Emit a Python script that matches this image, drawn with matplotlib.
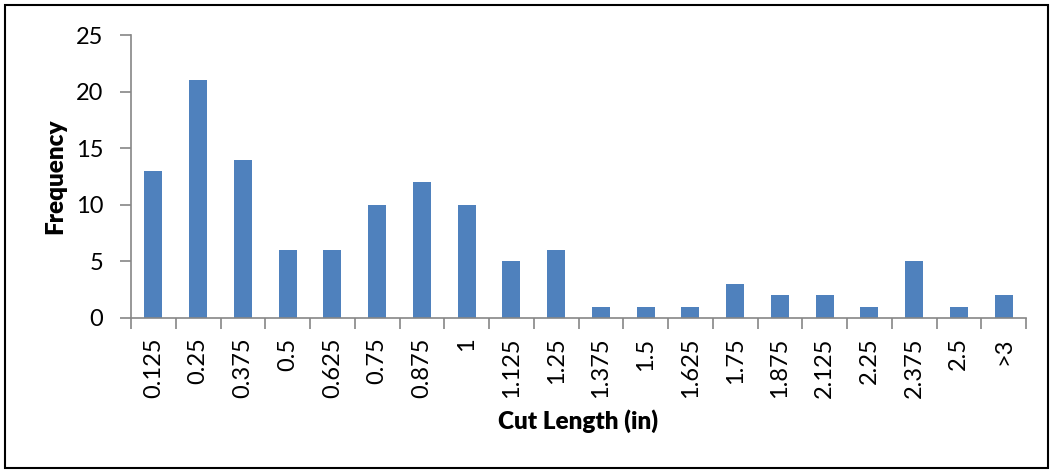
import matplotlib
matplotlib.use("Agg")
import matplotlib.pyplot as plt
from matplotlib.patches import Rectangle
import numpy as np

# histogram bins (upper bound of each cut-length bin) and counts
bins = ["0.125", "0.25", "0.375", "0.5", "0.625", "0.75", "0.875", "1",
        "1.125", "1.25", "1.375", "1.5", "1.625", "1.75", "1.875", "2.125",
        "2.25", "2.375", "2.5", ">3"]
counts = [13, 21, 14, 6, 6, 10, 12, 10, 5, 6, 1, 1, 1, 3, 2, 2, 1, 5, 1, 2]

BAR = "#4F81BD"
AXIS = "#868686"

plt.rcParams["font.family"] = ["Lato", "DejaVu Sans"]

fig = plt.figure(figsize=(10.53, 4.70), dpi=100)
ax = fig.add_axes([131 / 1053, 1 - 318 / 470, 895 / 1053, 283 / 470])

x = np.arange(len(bins))
ax.bar(x, counts, width=0.4, color=BAR, zorder=2)

ax.set_xlim(-0.5, len(bins) - 0.5)
ax.set_ylim(0, 25)
ax.set_yticks(range(0, 26, 5))

ax.set_xticks(x)
ax.set_xticklabels(bins, rotation=90)
ax.set_xticks(np.arange(-0.5, len(bins)), minor=True)
ax.tick_params(axis="x", which="major", length=0, pad=14, labelsize=17)
ax.tick_params(axis="x", which="minor", length=8, width=1.2, color=AXIS,
               direction="out")
ax.tick_params(axis="y", length=8, width=1.2, color=AXIS, pad=12,
               labelsize=17, direction="out")

for side in ("top", "right"):
    ax.spines[side].set_visible(False)
for side in ("left", "bottom"):
    ax.spines[side].set_color(AXIS)
    ax.spines[side].set_linewidth(1.2)

ax.set_xlabel("Cut Length (in)", fontsize=17.5, fontweight="heavy",
              labelpad=8)
ax.set_ylabel("Frequency", fontsize=17.5, fontweight="heavy", labelpad=7)

# thin black border around the whole chart area
fig.patches.append(Rectangle((5 / 1053, 2 / 470), 1043 / 1053, 463 / 470,
                             transform=fig.transFigure, fill=False,
                             edgecolor="black", linewidth=1.5))

fig.savefig("out.png", dpi=100)
